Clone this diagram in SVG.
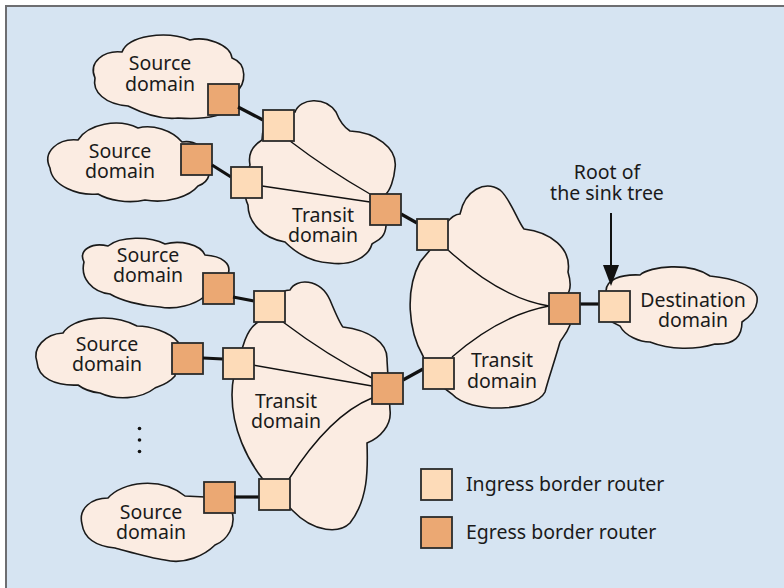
<svg xmlns="http://www.w3.org/2000/svg" width="784" height="588" viewBox="0 0 784 588">
  <style>
    .cloud { fill: #fbece2; stroke: #1a1a1a; stroke-width: 1.6; }
    .ingress { fill: #fddbb8; stroke: #2b2b2b; stroke-width: 1.8; }
    .egress { fill: #eba873; stroke: #2b2b2b; stroke-width: 1.8; }
    .link { stroke: #111; stroke-width: 3.2; fill: none; }
    .path { stroke: #111; stroke-width: 1.4; fill: none; }
    text { font-family: "Noto Sans", "Open Sans", sans-serif; font-size: 19.5px; fill: #1a1a1a; text-anchor: middle; }
    .legend text { text-anchor: start; }
  </style>
  <defs>
    <rect id="sq" width="31" height="31"/>
  </defs>

  <!-- canvas frame -->
  <rect x="0" y="0" width="784" height="588" fill="#ffffff"/>
  <rect x="6" y="6" width="800" height="600" fill="#d6e4f2" stroke="#6d6e71" stroke-width="2"/>

  <!-- source domains -->
  <g id="source1">
    <path class="cloud" d="M 95,78 C 88,62 104,50 122,52 C 128,36 165,30 190,40 C 205,36 230,44 232,58 C 248,64 246,84 236,92 L 236,100 C 232,116 205,120 178,118 C 160,120 140,112 128,106 C 105,104 92,92 95,78 Z"/>
    <text x="160" y="70">Source</text>
    <text x="160" y="91">domain</text>
    <use href="#sq" class="egress" x="208" y="84"/>
  </g>
  <g id="source2">
    <path class="cloud" d="M 50,168 C 42,152 58,138 78,140 C 88,124 118,118 138,128 C 152,124 172,130 182,142 C 195,140 206,148 204,158 C 214,168 210,182 198,186 C 190,196 168,204 145,200 C 128,204 108,200 98,194 C 78,196 52,186 50,168 Z"/>
    <text x="120" y="158">Source</text>
    <text x="120" y="178">domain</text>
    <use href="#sq" class="egress" x="181" y="144"/>
  </g>
  <g id="source3">
    <path class="cloud" d="M 84,262 C 78,250 92,242 108,246 C 120,236 150,236 165,244 C 180,240 200,244 205,255 C 222,256 232,264 228,274 L 205,296 C 195,305 175,310 160,307 C 140,306 120,300 110,294 C 92,292 80,278 84,262 Z"/>
    <text x="148" y="262">Source</text>
    <text x="148" y="282">domain</text>
    <use href="#sq" class="egress" x="203" y="273"/>
  </g>
  <g id="source4">
    <path class="cloud" d="M 37,362 C 32,348 45,334 63,333 C 72,318 110,312 137,326 C 150,326 170,332 178,342 L 175,376 C 168,384 160,386 155,388 C 140,400 115,400 100,393 C 90,392 82,388 78,385 C 55,386 38,378 37,362 Z"/>
    <text x="107" y="351">Source</text>
    <text x="107" y="371">domain</text>
    <use href="#sq" class="egress" x="172" y="343"/>
  </g>
  <g id="source5">
    <path class="cloud" d="M 82,524 C 78,508 92,498 108,498 C 122,482 160,476 185,496 L 205,497 L 232,512 C 236,525 228,540 215,545 C 205,555 185,565 165,560 C 150,558 130,552 115,548 C 95,546 84,538 82,524 Z"/>
    <text x="151" y="519">Source</text>
    <text x="151" y="539">domain</text>
    <use href="#sq" class="egress" x="204" y="482"/>
  </g>

  <!-- more sources elided -->
  <g id="ellipsis" fill="#111">
    <circle cx="139.5" cy="428.5" r="1.8"/>
    <circle cx="139.5" cy="440" r="1.8"/>
    <circle cx="139.5" cy="451.5" r="1.8"/>
  </g>

  <!-- transit domains (clouds) -->
  <g id="transit1">
    <path class="cloud" d="M 262,140 C 262,120 280,108 295,112 C 300,98 325,96 336,112 C 340,122 345,128 350,131 C 375,132 398,148 395,168 C 394,180 390,190 386,194 L 386,226 C 385,238 378,240 372,244 C 368,258 350,266 330,263 C 310,262 295,252 285,242 C 262,238 248,222 248,205 C 242,192 245,178 250,165 C 248,155 252,146 262,140 Z"/>
    <text x="323" y="222">Transit</text>
    <text x="323" y="242">domain</text>
  </g>
  <g id="transit2">
    <path class="cloud" d="M 430,250 C 440,230 450,214 460,214 C 465,190 485,180 500,190 C 510,198 518,222 524,229 C 550,232 572,248 568,272 C 572,285 570,292 566,296 L 570,325 C 566,335 562,338 560,342 C 555,360 548,380 545,392 C 535,412 470,414 452,394 L 440,385 C 430,370 424,360 423,356 C 408,330 405,290 420,262 Z"/>
    <text x="502" y="367">Transit</text>
    <text x="502" y="388">domain</text>
  </g>
  <g id="transit3">
    <path class="cloud" d="M 258,322 C 268,300 280,290 290,290 C 296,278 320,278 330,300 C 335,312 340,324 343,327 C 368,330 388,342 387,360 L 390,410 C 392,425 380,438 367,443 C 368,470 368,500 350,523 C 340,533 315,534 292,510 L 262,478 C 248,460 232,430 232,395 C 232,380 236,365 240,355 L 245,340 C 248,332 252,326 258,322 Z"/>
    <text x="286" y="408">Transit</text>
    <text x="286" y="428">domain</text>
  </g>
  <g id="destination">
    <path class="cloud" d="M 606,291 C 606,280 620,274 640,275 C 650,266 690,262 710,276 C 730,278 760,285 757,302 C 756,312 748,318 742,322 C 742,336 735,345 715,344 C 695,350 670,350 650,342 C 640,342 625,336 620,326 L 612,322 Z"/>
    <text x="693" y="307">Destination</text>
    <text x="693" y="327">domain</text>
  </g>

  <!-- connectors -->
  <g id="connectors">
    <line class="link" x1="238" y1="107" x2="263" y2="120"/>
    <line class="link" x1="212" y1="165" x2="231" y2="177"/>
    <line class="link" x1="233" y1="297" x2="254" y2="301"/>
    <line class="link" x1="203" y1="358" x2="223" y2="359"/>
    <line class="link" x1="234" y1="497" x2="259" y2="497"/>
    <line class="link" x1="401" y1="214" x2="417" y2="223"/>
    <line class="link" x1="403" y1="380" x2="423" y2="369"/>
    <line class="link" x1="580" y1="304" x2="599" y2="304"/>

    <path class="path" d="M 290,141 Q 328,170 370,194"/>
    <path class="path" d="M 262,186 L 370,202"/>
    <path class="path" d="M 448,250 Q 502,299 549,306"/>
    <path class="path" d="M 452,357 Q 500,315 549,306"/>
    <path class="path" d="M 283,322 Q 328,356 372,378"/>
    <path class="path" d="M 253,365 L 372,386"/>
    <path class="path" d="M 289,479 Q 330,415 372,398"/>
  </g>

  <!-- border routers drawn over the connectors -->
  <g id="routers">
    <use href="#sq" class="ingress" x="263" y="110"/>
    <use href="#sq" class="ingress" x="231" y="167"/>
    <use href="#sq" class="egress" x="370" y="194"/>
    <use href="#sq" class="ingress" x="417" y="219"/>
    <use href="#sq" class="egress" x="549" y="293"/>
    <use href="#sq" class="ingress" x="423" y="358"/>
    <use href="#sq" class="ingress" x="599" y="291"/>
    <use href="#sq" class="ingress" x="254" y="291"/>
    <use href="#sq" class="ingress" x="223" y="348"/>
    <use href="#sq" class="egress" x="372" y="373"/>
    <use href="#sq" class="ingress" x="259" y="479"/>
  </g>

  <!-- sink tree root marker -->
  <g id="root-label">
    <text x="607" y="179">Root of</text>
    <text x="607" y="200">the sink tree</text>
    <line x1="611" y1="213" x2="611" y2="267" stroke="#111" stroke-width="2"/>
    <polygon points="603,265 619,265 611,286" fill="#111"/>
  </g>

  <!-- legend -->
  <g id="legend" class="legend">
    <use href="#sq" class="ingress" x="421" y="469"/>
    <text x="466" y="491">Ingress border router</text>
    <use href="#sq" class="egress" x="421" y="517"/>
    <text x="466" y="539">Egress border router</text>
  </g>
</svg>
